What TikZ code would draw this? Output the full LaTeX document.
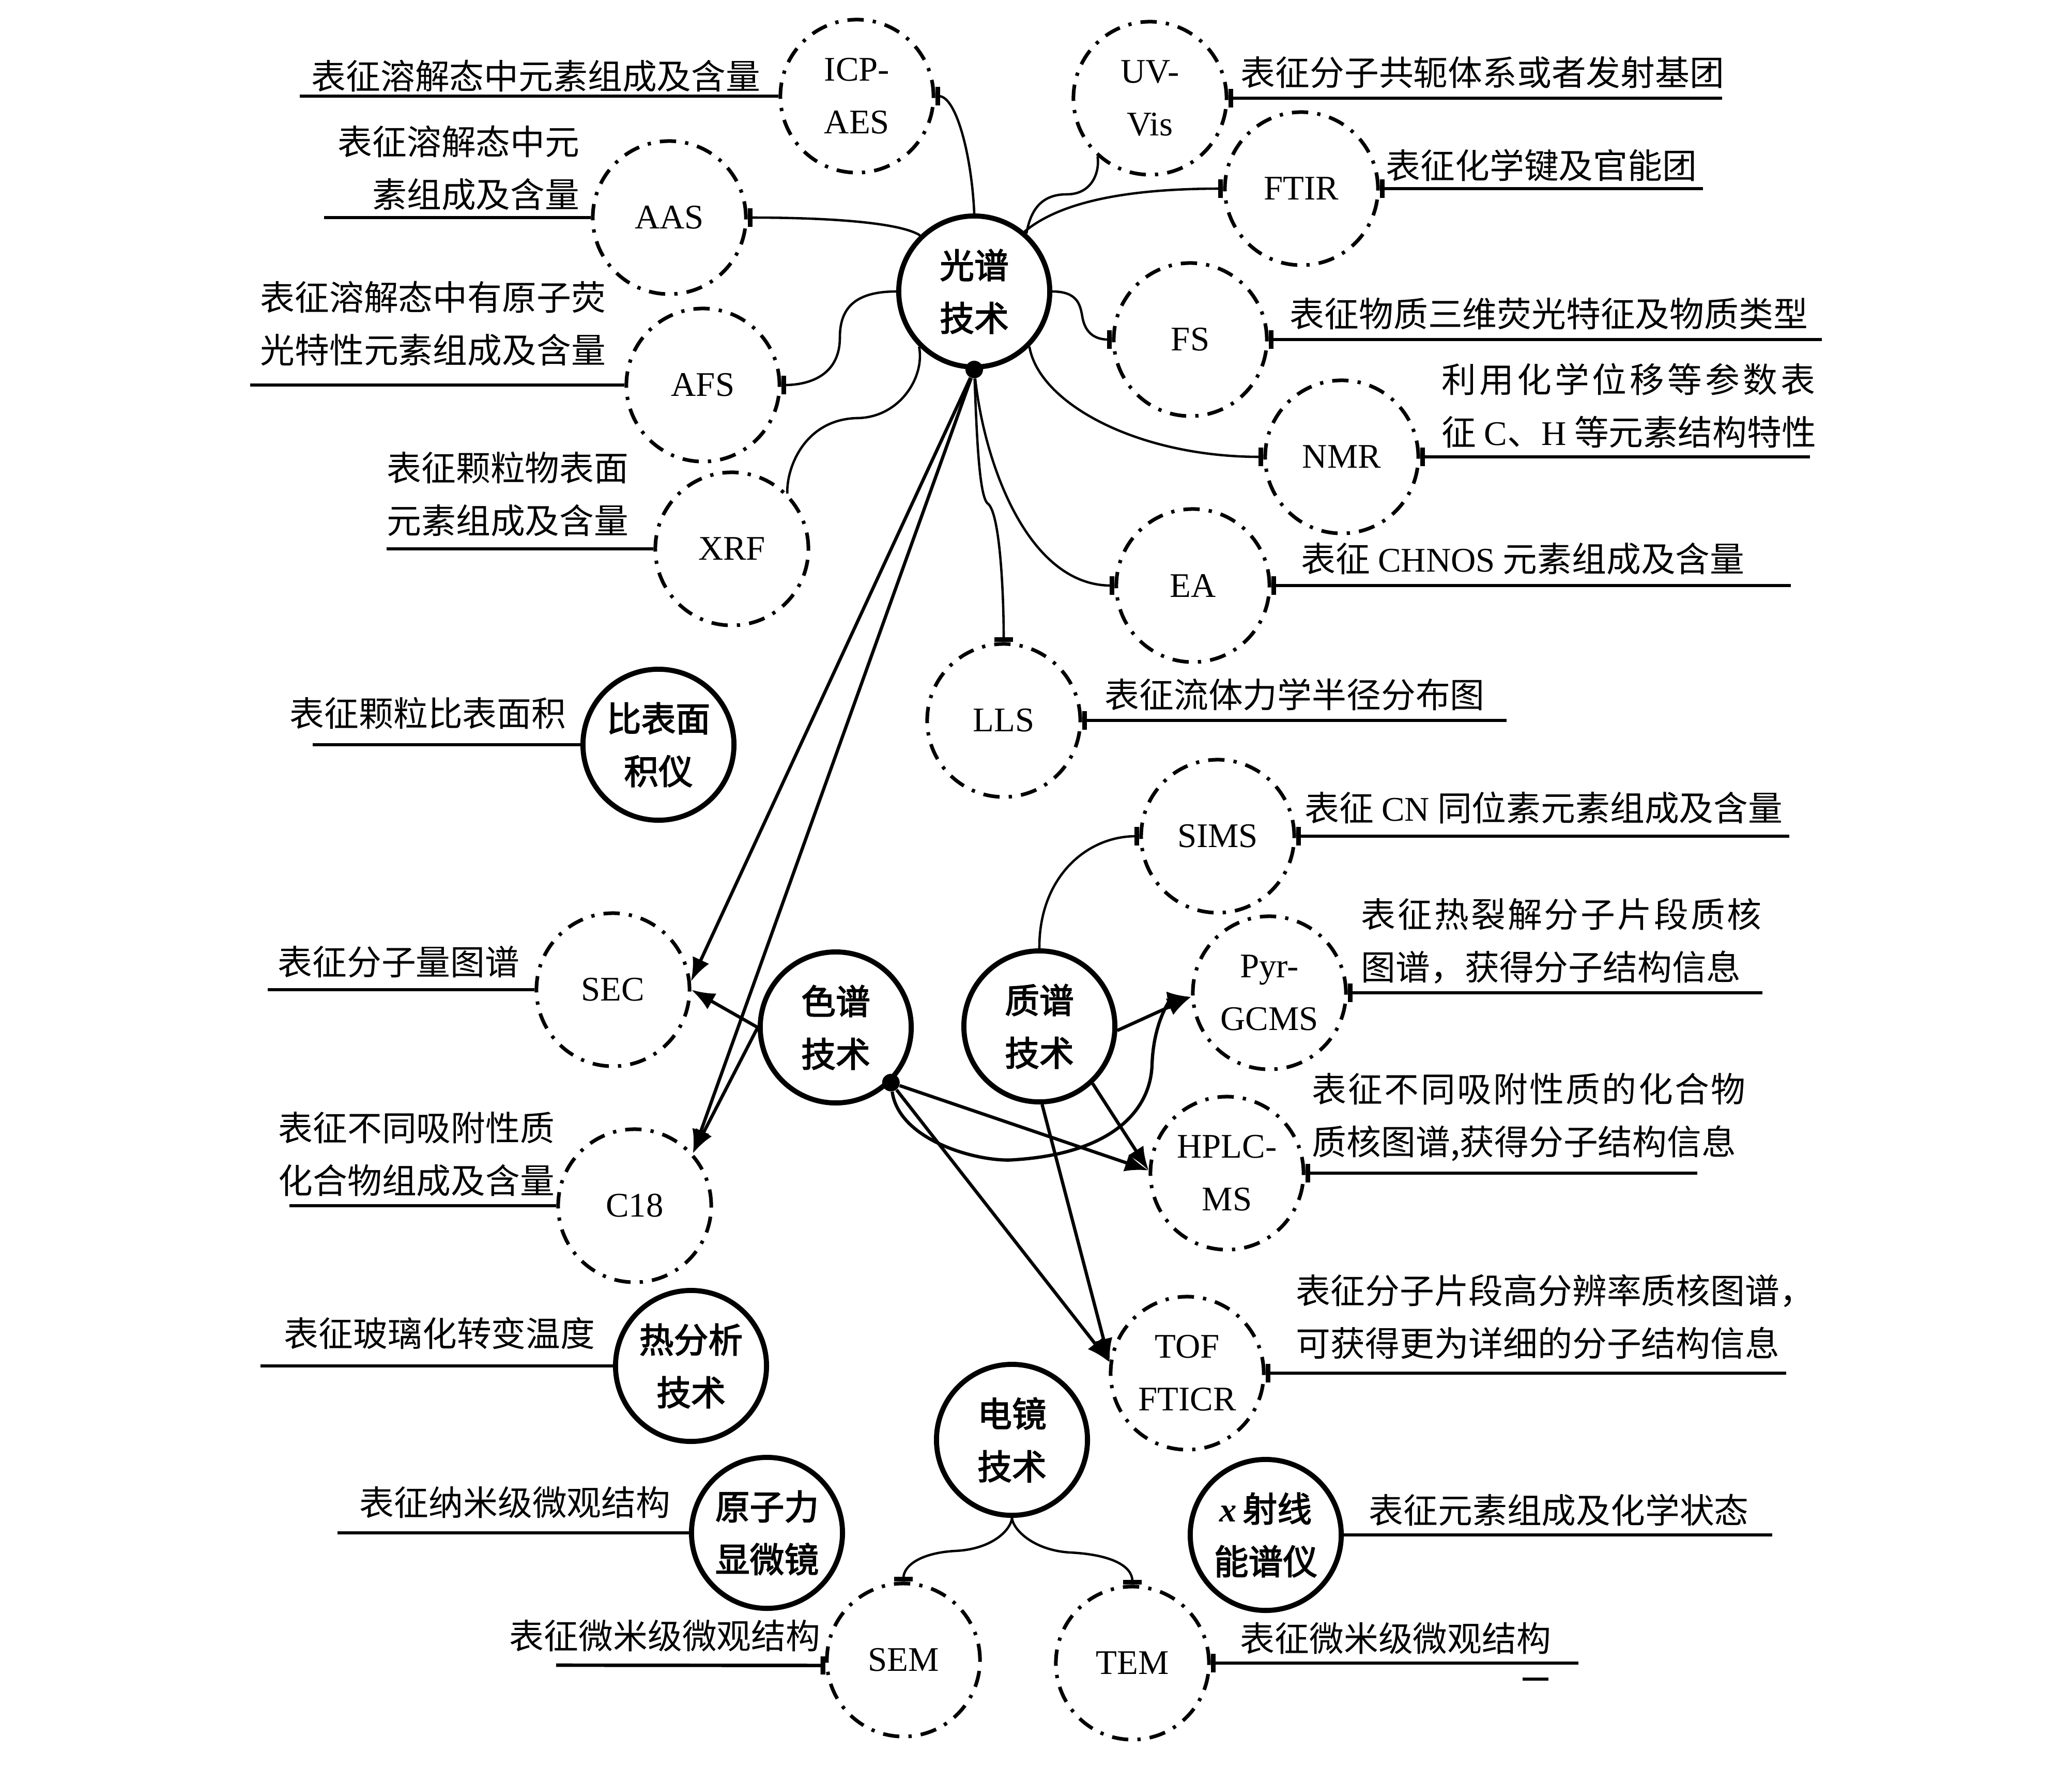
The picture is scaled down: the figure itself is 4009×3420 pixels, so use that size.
\documentclass[tikz,border=0pt]{standalone}
\usepackage{fontspec}
\setmainfont{Liberation Serif}
\newfontfamily\cjk{Noto Sans CJK SC}[AutoFakeBold=2.5]
\usetikzlibrary{arrows.meta}
\begin{document}
\begin{tikzpicture}[x=0.01cm,y=-0.01cm,
 every node/.style={font=\fontsize{19}{29}\selectfont},
 dcirc/.style={circle,draw,line width=2pt,dash pattern=on 9pt off 5pt on 1.8pt off 5pt,minimum size=2.96cm,inner sep=0pt,align=center},
 scirc/.style={circle,draw,line width=2.8pt,minimum size=2.92cm,inner sep=0pt,align=center,font=\fontsize{19}{29}\selectfont\cjk\bfseries},
 desc/.style={inner sep=0pt,font=\fontsize{19}{29}\selectfont\cjk},
 conn/.style={line width=1.3pt},
 tee/.style={-{Bar[width=10pt,line width=2.6pt]}},
 teeL/.style={{Bar[width=10pt,line width=2.6pt]}-},
 uline/.style={line width=1.9pt},
 arr/.style={line width=1.8pt,-{Latex[length=13pt,width=10pt]}},
 dotn/.style={circle,fill,inner sep=0pt,minimum size=0.34cm}
]
\useasboundingbox (0,0) rectangle (4009,3420);

% ---------- nodes ----------
\node[dcirc] (icp) at (1658,186) {ICP-\\AES};
\node[dcirc] (uv) at (2225,190) {UV-\\Vis};
\node[dcirc] (ftir) at (2518,365) {FTIR};
\node[dcirc] (aas) at (1295,421) {AAS};
\node[scirc] (gp) at (1885,564) {光谱\\技术};
\node[dcirc] (fs) at (2303,657) {FS};
\node[dcirc] (afs) at (1360,745) {AFS};
\node[dcirc] (nmr) at (2596,884) {NMR};
\node[dcirc] (xrf) at (1416,1062) {XRF};
\node[dcirc] (ea) at (2308,1133) {EA};
\node[dcirc] (lls) at (1942,1394) {LLS};
\node[scirc] (bmj) at (1274,1441) {比表面\\积仪};
\node[dcirc] (sims) at (2356,1618) {SIMS};
\node[dcirc] (sec) at (1186,1915) {SEC};
\node[scirc] (cp) at (1617,1988) {色谱\\技术};
\node[scirc] (qp) at (2011,1986) {质谱\\技术};
\node[dcirc] (pyr) at (2456,1921) {Pyr-\\GCMS};
\node[dcirc] (hplc) at (2374,2270) {HPLC-\\MS};
\node[dcirc] (c18) at (1228,2333) {C18};
\node[scirc] (rfx) at (1337,2643) {热分析\\技术};
\node[dcirc] (tof) at (2297,2657) {TOF\\FTICR};
\node[scirc] (dj) at (1958,2786) {电镜\\技术};
\node[scirc] (afm) at (1484,2966) {原子力\\显微镜};
\node[scirc] (xps) at (2449,2970) {{\rmfamily\bfseries\itshape x}\,射线\\能谱仪};
\node[dcirc] (sem) at (1748,3212) {SEM};
\node[dcirc] (tem) at (2191,3218) {TEM};

\node[dotn] (gpdot) at (gp.south) {};
\node[dotn] (cpdot) at (cp.-45) {};

% ---------- connectors from 光谱 ----------
\draw[conn,tee] (gp.north) .. controls (1880,300) and (1850,186) .. (icp.east);
\draw[conn,tee] (gp.134) .. controls (1740,430) and (1600,421) .. (aas.east);
\draw[conn,tee] (gp.west) .. controls (1650,564) and (1625,600) .. (1625,653) .. controls (1625,730) and (1560,745) .. (afs.east);
\draw[conn] (gp.225) .. controls (1790,730) and (1740,809) .. (1657,809) .. controls (1560,812) and (1522,900) .. (xrf.45);
\draw[conn] (gp.48) .. controls (1995,400) and (2020,376) .. (2064,376) .. controls (2115,376) and (2128,330) .. (uv.228);
\draw[conn,tee] (gp.50) .. controls (2040,400) and (2150,365) .. (ftir.west);
\draw[conn,tee] (gp.east) .. controls (2085,564) and (2090,590) .. (2094,612) .. controls (2100,650) and (2125,657) .. (fs.west);
\draw[conn,tee] (gp.-45) .. controls (2010,780) and (2200,884) .. (nmr.west);
\draw[conn,tee] (gpdot) .. controls (1905,900) and (1990,1133) .. (ea.west);
\draw[conn,tee] (gpdot) .. controls (1890,850) and (1895,965) .. (1912,975) .. controls (1935,995) and (1942,1150) .. (lls.north);
\draw[arr] (gpdot) -- (sec.6);
\draw[arr] (gpdot) -- (c18.42);

% ---------- 色谱 ----------
\draw[arr] (cp.west) -- (sec.0);
\draw[arr] (cp.west) -- (c18.42);
\draw[arr] (cpdot) -- (hplc.178);
\draw[arr] (cpdot) .. controls (1740,2210) and (1900,2250) .. (1963,2244) .. controls (2150,2232) and (2226,2150) .. (2229,2060) .. controls (2232,1975) and (2265,1935) .. (pyr.183);
\draw[arr] (cpdot) -- (tof.172);

% ---------- 质谱 ----------
\draw[arr] (qp.-3) -- (pyr.183);
\draw[arr] (qp.-47) -- (hplc.178);
\draw[arr] (qp.-88) -- (tof.172);
\draw[conn,tee] (qp.north) .. controls (2010,1700) and (2100,1618) .. (sims.west);

% ---------- 电镜 ----------
\draw[conn,tee] (dj.south) .. controls (1956,2960) and (1920,2998) .. (1847,3001) .. controls (1780,3005) and (1748,3030) .. (sem.north);
\draw[conn,tee] (dj.south) .. controls (1960,2960) and (2000,3000) .. (2071,3004) .. controls (2150,3008) and (2191,3030) .. (tem.north);

% ---------- description underlines ----------
\coordinate (icpE) at (580,186);
\coordinate (aasE) at (627,421);
\coordinate (afsE) at (484,745);
\coordinate (xrfE) at (748,1062);
\coordinate (bmjE) at (605,1441);
\coordinate (secE) at (518,1915);
\coordinate (c18E) at (560,2333);
\coordinate (rfxE) at (504,2643);
\coordinate (afmE) at (653,2966);
\coordinate (semE) at (1076,3222);
\coordinate (uvE) at (3332,190);
\coordinate (ftirE) at (3295,365);
\coordinate (fsE) at (3525,657);
\coordinate (nmrE) at (3502,884);
\coordinate (eaE) at (3465,1133);
\coordinate (llsE) at (2915,1394);
\coordinate (simsE) at (3462,1618);
\coordinate (pyrE) at (3410,1921);
\coordinate (hplcE) at (3284,2270);
\coordinate (tofE) at (3456,2657);
\coordinate (xpsE) at (3429,2970);
\coordinate (temE) at (3054,3218);

\draw[uline] (icp.west) -- (icpE);
\draw[uline] (aas.west) -- (aasE);
\draw[uline] (afs.west) -- (afsE);
\draw[uline] (xrf.west) -- (xrfE);
\draw[uline] (bmj.west) -- (bmjE);
\draw[uline] (sec.west) -- (secE);
\draw[uline] (c18.west) -- (c18E);
\draw[uline] (rfx.west) -- (rfxE);
\draw[uline] (afm.west) -- (afmE);
\draw[uline,teeL] (sem.184) -- (semE);
\draw[uline,teeL] (uv.east) -- (uvE);
\draw[uline,teeL] (ftir.east) -- (ftirE);
\draw[uline,teeL] (fs.east) -- (fsE);
\draw[uline,teeL] (nmr.east) -- (nmrE);
\draw[uline,teeL] (ea.east) -- (eaE);
\draw[uline,teeL] (lls.east) -- (llsE);
\draw[uline,teeL] (sims.east) -- (simsE);
\draw[uline,teeL] (pyr.east) -- (pyrE);
\draw[uline,teeL] (hplc.east) -- (hplcE);
\draw[uline,teeL] (tof.east) -- (tofE);
\draw[uline] (xps.east) -- (xpsE);
\draw[uline,teeL] (tem.east) -- (temE);

% ---------- description texts ----------
\node[desc,anchor=south east] (icpT) at (1472,179) {表征溶解态中元素组成及含量};
\node[desc,anchor=south east,align=right] (aasT) at (1122,408) {表征溶解态中元\\素组成及含量};
\node[desc,anchor=south west,align=left] (afsT) at (503,709) {表征溶解态中有原子荧\\光特性元素组成及含量};
\node[desc,anchor=south west,align=left] (xrfT) at (748,1039) {表征颗粒物表面\\元素组成及含量};
\node[desc,anchor=south east] (bmjT) at (1096,1412) {表征颗粒比表面积};
\node[desc,anchor=south east] (secT) at (1006,1893) {表征分子量图谱};
\node[desc,anchor=south west,align=left] (c18T) at (538,2316) {表征不同吸附性质\\化合物组成及含量};
\node[desc,anchor=south east] (rfxT) at (1152,2612) {表征玻璃化转变温度};
\node[desc,anchor=south east] (afmT) at (1298,2939) {表征纳米级微观结构};
\node[desc,anchor=south east] (semT) at (1588,3197) {表征微米级微观结构};

\node[desc,anchor=south west] (uvT) at (2400,172) {表征分子共轭体系或者发射基团};
\node[desc,anchor=south west] (ftirT) at (2681,352) {表征化学键及官能团};
\node[desc,anchor=south west] (fsT) at (2495,639) {表征物质三维荧光特征及物质类型};
\node[desc,anchor=south west,align=left] (nmrT) at (2789,868) {{\addfontfeature{LetterSpace=9}利用化学位移等参数表}\\征 {\rmfamily C}、{\rmfamily H} 等元素结构特性};
\node[desc,anchor=south west] (eaT) at (2517,1113) {表征 {\rmfamily CHNOS} 元素组成及含量};
\node[desc,anchor=south west] (llsT) at (2137,1376) {表征流体力学半径分布图};
\node[desc,anchor=south west] (simsT) at (2524,1595) {表征 {\rmfamily CN} 同位素元素组成及含量};
\node[desc,anchor=south west,align=left] (pyrT) at (2633,1904) {{\addfontfeature{LetterSpace=6}表征热裂解分子片段质核}\\图谱，获得分子结构信息};
\node[desc,anchor=south west,align=left] (hplcT) at (2538,2248) {{\addfontfeature{LetterSpace=5}表征不同吸附性质的化合物}\\质核图谱,获得分子结构信息};
\node[desc,anchor=south west,align=left] (tofT) at (2507,2631) {表征分子片段高分辨率质核图谱，\\可获得更为详细的分子结构信息};
\node[desc,anchor=south west] (xpsT) at (2648,2954) {表征元素组成及化学状态};
\node[desc,anchor=south west] (temT) at (2399,3202) {表征微米级微观结构};

% stray mark
\draw[line width=1.5pt] (2946,3249) -- (2996,3249);
\end{tikzpicture}
\end{document}
